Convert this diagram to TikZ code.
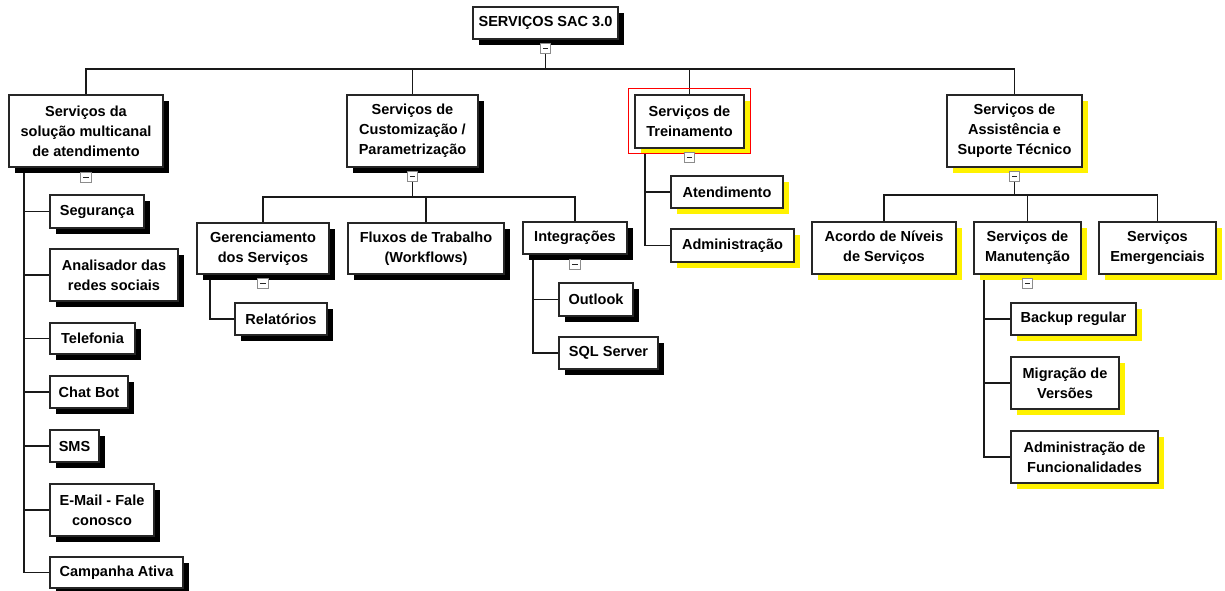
\documentclass[tikz,border=0pt]{standalone}
\usepackage{fontspec}
\setmainfont{Liberation Sans}
\usetikzlibrary{shadows,calc,backgrounds}
\begin{document}
\begin{tikzpicture}[x=0.75pt,y=-0.75pt,
  bx/.style n args={2}{draw=black!85, line width=1.15pt, fill=white,
    minimum width=#1*0.75pt, minimum height=#2*0.75pt, inner sep=0pt,
    align=center, font=\bfseries\fontsize{10.9}{15}\selectfont},
  blk/.style={general shadow={draw=none, fill=black, shadow xshift=4.5pt, shadow yshift=-4.5pt}},
  ylw/.style={general shadow={draw=none, fill=yellow, shadow xshift=4.5pt, shadow yshift=-4.5pt}},
  conn/.style={draw=black!90, line width=1.2pt},
  mn/.style={draw=black!45, fill=white, line width=0.7pt, minimum size=7.8pt, inner sep=0pt,
    path picture={\draw[black!85, line width=0.9pt]
      ($(path picture bounding box.west)+(2.5,0)$) -- ($(path picture bounding box.east)+(-2.5,0)$);}}
]
\useasboundingbox (0,0) rectangle (1225,591);

% level 0 and 1
\node[bx={145}{32},blk] (top) at (545.5,23) {SERVIÇOS SAC 3.0};
\node[bx={154}{72},blk] (A) at (86,131) {Serviços da\\solução multicanal\\de atendimento};
\node[bx={131}{72},blk] (B) at (412.5,131) {Serviços de\\Customização /\\Parametrização};
\node[bx={109}{53},ylw] (C) at (689.5,121.5) {Serviços de\\Treinamento};
\node[bx={135}{72},ylw] (D) at (1014.5,131) {Serviços de\\Assistência e\\Suporte Técnico};

% under A
\node[bx={94}{33},blk] (seg) at (97,211.5) {Segurança};
\node[bx={128}{52},blk] (anal) at (114,275) {Analisador das\\redes sociais};
\node[bx={85}{31},blk] (tel) at (92.5,338.5) {Telefonia};
\node[bx={78}{32},blk] (chat) at (89,392) {Chat Bot};
\node[bx={49}{32},blk] (sms) at (74.5,446) {SMS};
\node[bx={104}{52},blk] (mail) at (102,510) {E-Mail - Fale\\conosco};
\node[bx={133}{31},blk] (camp) at (116.5,572.5) {Campanha Ativa};

% under B
\node[bx={132}{51},blk] (ger) at (263,248.5) {Gerenciamento\\dos Serviços};
\node[bx={92}{32},blk] (rel) at (281,319) {Relatórios};
\node[bx={156}{51},blk] (flux) at (426,248.5) {Fluxos de Trabalho\\(Workflows)};
\node[bx={104}{32},blk] (integ) at (575,238) {Integrações};
\node[bx={74}{33},blk] (outl) at (596,299.5) {Outlook};
\node[bx={99}{32},blk] (sql) at (608.5,353) {SQL Server};

% under C
\node[bx={112}{32},ylw] (aten) at (727,192) {Atendimento};
\node[bx={123}{33},ylw] (admin) at (732.5,245.5) {Administração};

% under D
\node[bx={144}{52},ylw] (acordo) at (884,248) {Acordo de Níveis\\de Serviços};
\node[bx={107}{52},ylw] (manut) at (1027.5,248) {Serviços de\\Manutenção};
\node[bx={117}{52},ylw] (emerg) at (1157.5,248) {Serviços\\Emergenciais};
\node[bx={125}{32},ylw] (backup) at (1073.5,319) {Backup regular};
\node[bx={108}{52},ylw] (migr) at (1065,383) {Migração de\\Versões};
\node[bx={147}{52},ylw] (admf) at (1084.5,457) {Administração de\\Funcionalidades};

% red highlight
\draw[red, line width=0.9pt] ($(C.north west)+(-6,-6)$) rectangle ($(C.south east)+(6,5)$);

% buses
\coordinate (b0) at (545.5,69);
\coordinate (b1) at (412.5,197);
\coordinate (b3) at (1014.5,195);

\begin{scope}[on background layer]
  \fill[white] (0,0) rectangle (1225,591);
  \draw[conn] (top.south) -- (b0);
  \draw[conn] (b0) -| (A.north);
  \draw[conn] (b0) -| (B.north);
  \draw[conn] (b0) -| (C.north);
  \draw[conn] (b0) -| (D.north);
  % A children
  \foreach \c in {seg,anal,tel,chat,sms,mail,camp}
    \draw[conn] ($(A.south west)+(16,0)$) |- (\c.west);
  % B children
  \draw[conn] (B.south) -- (b1);
  \draw[conn] (b1) -| (ger.north);
  \draw[conn] (b1) -| (flux.north);
  \draw[conn] (b1) -| (integ.north);
  \draw[conn] ($(ger.south west)+(14,0)$) |- (rel.west);
  \foreach \c in {outl,sql}
    \draw[conn] ($(integ.south west)+(11,0)$) |- (\c.west);
  % C children
  \foreach \c in {aten,admin}
    \draw[conn] ($(C.south west)+(11,0)$) |- (\c.west);
  % D children
  \draw[conn] (D.south) -- (b3);
  \draw[conn] (b3) -| (acordo.north);
  \draw[conn] (b3) -| (manut.north);
  \draw[conn] (b3) -| (emerg.north);
  \foreach \c in {backup,migr,admf}
    \draw[conn] ($(manut.south west)+(11,0)$) |- (\c.west);
\end{scope}

% collapse markers
\node[mn] (mtop) at ($(top.south)+(0,9)$) {};
\node[mn] (mA) at ($(A.south)+(0,9.5)$) {};
\node[mn] (mB) at ($(B.south)+(0,9)$) {};
\node[mn] (mC) at ($(C.south)+(0,8.5)$) {};
\node[mn] (mD) at ($(D.south)+(0,8.5)$) {};
\node[mn] (mger) at ($(ger.south)+(0,9)$) {};
\node[mn] (minteg) at ($(integ.south)+(0,9.5)$) {};
\node[mn] (mmanut) at ($(manut.south)+(0,9)$) {};
\end{tikzpicture}
\end{document}
